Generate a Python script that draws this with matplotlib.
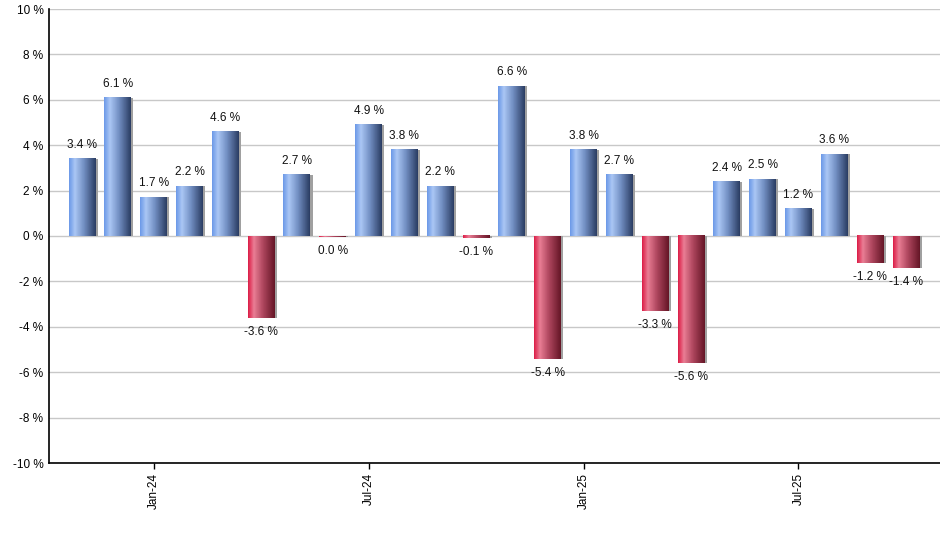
import numpy as np
import matplotlib.pyplot as plt
from matplotlib.colors import LinearSegmentedColormap

plt.rcParams['font.family'] = ['Liberation Sans', 'DejaVu Sans']

# monthly returns, Nov-23 .. Oct-25
months = ['Nov-23', 'Dec-23', 'Jan-24', 'Feb-24', 'Mar-24', 'Apr-24', 'May-24', 'Jun-24',
          'Jul-24', 'Aug-24', 'Sep-24', 'Oct-24', 'Nov-24', 'Dec-24', 'Jan-25', 'Feb-25',
          'Mar-25', 'Apr-25', 'May-25', 'Jun-25', 'Jul-25', 'Aug-25', 'Sep-25', 'Oct-25']
values = [3.4, 6.1, 1.7, 2.2, 4.6, -3.6, 2.7, -0.03, 4.9, 3.8, 2.2, -0.1,
          6.6, -5.4, 3.8, 2.7, -3.3, -5.6, 2.4, 2.5, 1.2, 3.6, -1.2, -1.4]
labels = ['3.4 %', '6.1 %', '1.7 %', '2.2 %', '4.6 %', '-3.6 %', '2.7 %', '0.0 %',
          '4.9 %', '3.8 %', '2.2 %', '-0.1 %', '6.6 %', '-5.4 %', '3.8 %', '2.7 %',
          '-3.3 %', '-5.6 %', '2.4 %', '2.5 %', '1.2 %', '3.6 %', '-1.2 %', '-1.4 %']
tick_months = ['Jan-24', 'Jul-24', 'Jan-25', 'Jul-25']
yticks = [-10, -8, -6, -4, -2, 0, 2, 4, 6, 8, 10]

blue = LinearSegmentedColormap.from_list(
    'b', [(0, '#6b98e8'), (0.22, '#aac6f4'), (0.55, '#7390c4'), (1, '#2a3c62')])
red = LinearSegmentedColormap.from_list(
    'r', [(0, '#dc1c46'), (0.22, '#e97d94'), (0.55, '#b0475f'), (1, '#641526')])
grad = np.linspace(0, 1, 128).reshape(1, -1)

fig = plt.figure(figsize=(9.4, 5.5), dpi=100)
ax = fig.add_axes([49/940, 1 - 463/550, 1 - 49/940, 454/550])

w = 0.75
x = np.arange(len(values))
for xi, v, lab in zip(x, values, labels):
    lo, hi = (0, v) if v >= 0 else (v, 0)
    # grey shadow on the right side
    ax.add_patch(plt.Rectangle((xi - w/2 + 0.06, lo), w, hi - lo, color='#a0a0a0',
                               lw=0, zorder=2))
    ax.imshow(grad, cmap=blue if v > 0 else red, aspect='auto', origin='lower',
              extent=(xi - w/2, xi + w/2, lo, hi), zorder=3, interpolation='nearest')
    if v > 0:
        ax.text(xi, v + 0.35, lab, ha='center', va='bottom', fontsize=8.5, color='#111111')
    else:
        ax.text(xi, v - 0.35, lab, ha='center', va='top', fontsize=8.5, color='#111111')

ax.set_xlim(-0.92, 23.95)
ax.set_ylim(-10, 10)
ax.set_yticks(yticks)
ax.set_yticklabels([f'{t} %' for t in yticks], fontsize=8.5)
ax.set_xticks([months.index(m) for m in tick_months])
ax.set_xticklabels(tick_months, rotation=90, fontsize=8.5)
ax.tick_params(axis='y', length=0, pad=4)
ax.tick_params(axis='x', length=4, width=1, pad=3)
ax.grid(axis='y', color='#c8c8c8', lw=1)
ax.set_axisbelow(True)
for s in ['top', 'right']:
    ax.spines[s].set_visible(False)
ax.spines['left'].set_linewidth(1.2)
ax.spines['bottom'].set_linewidth(1.2)

fig.savefig('out.png', dpi=100)
